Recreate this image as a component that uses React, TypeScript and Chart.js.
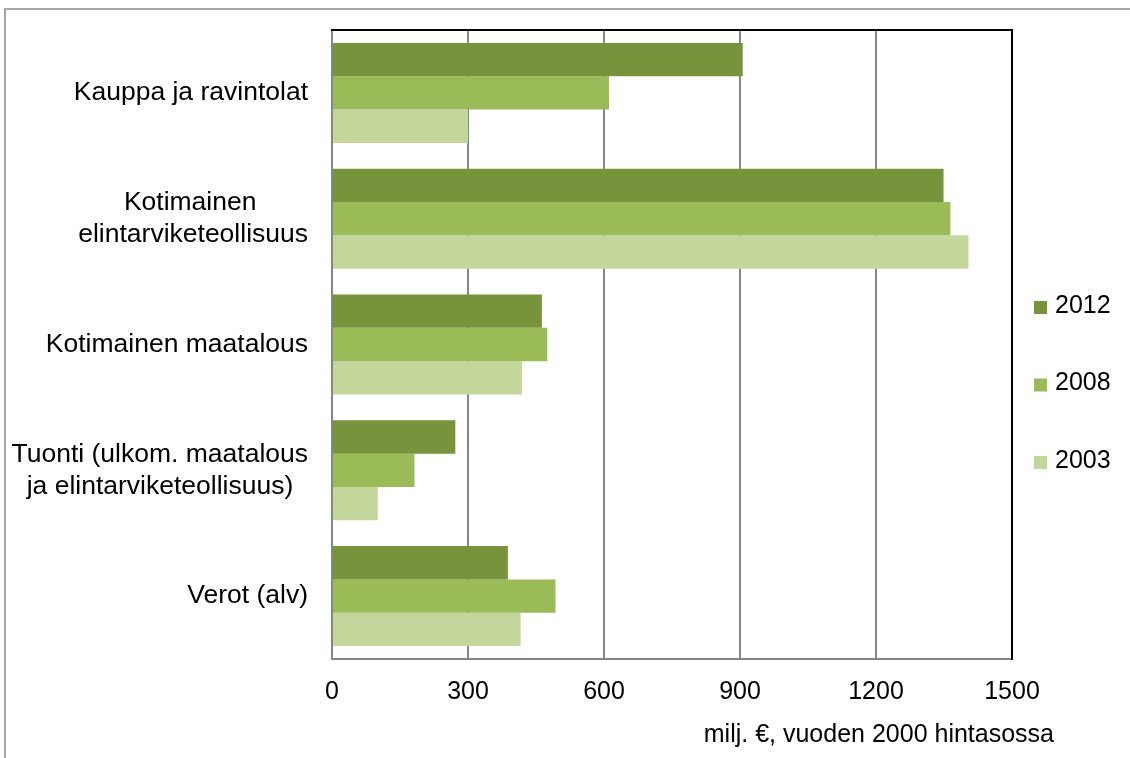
import React, { useEffect, useRef } from "react";
import { Chart, registerables } from "chart.js";

Chart.register(...registerables);

const CATEGORIES: (string | string[])[] = [
  "Kauppa ja ravintolat",
  ["Kotimainen", "elintarviketeollisuus"],
  "Kotimainen maatalous",
  ["Tuonti (ulkom. maatalous", "ja elintarviketeollisuus)"],
  "Verot (alv)",
];

const SERIES_LABELS = ["2012", "2008", "2003"];
const VALUES_2012 = [906, 1349, 463, 272, 388];
const VALUES_2008 = [611, 1364, 475, 182, 493];
const VALUES_2003 = [300, 1404, 419, 101, 416];
const COLORS = ["#77933C", "#9BBB59", "#C3D69B"];

const X_MIN = 0;
const X_MAX = 1500;
const X_STEP = 300;
const AXIS_TITLE = "milj. €, vuoden 2000 hintasossa";

const FONT = '"Liberation Sans", Arial, sans-serif';
const CAT_FONT_SIZE = 26.5;
const SMALL_FONT_SIZE = 25;

// centre the lines of multi-line category labels within their (right-aligned) block
function centreLines(label: string | string[]): string | string[] {
  if (!Array.isArray(label)) return label;
  const c = document.createElement("canvas").getContext("2d")!;
  c.font = `${CAT_FONT_SIZE}px ${FONT}`;
  const widths = label.map((l) => c.measureText(l).width);
  const maxW = Math.max(...widths);
  const nb = c.measureText("\u00A0").width;
  return label.map((l, i) => l + "\u00A0".repeat(Math.round((maxW - widths[i]) / 2 / nb)));
}

const sideLegend = {
  id: "sideLegend",
  afterDraw(chart: any) {
    const { ctx, chartArea } = chart;
    ctx.save();
    chart.data.datasets.forEach((ds: any, i: number) => {
      const cy = chartArea.top + 276 + i * 77.5;
      ctx.fillStyle = ds.backgroundColor;
      ctx.fillRect(chartArea.right + 22, cy - 5, 13, 13);
      ctx.fillStyle = "#000";
      ctx.font = `${SMALL_FONT_SIZE}px ${FONT}`;
      ctx.textBaseline = "middle";
      ctx.textAlign = "left";
      ctx.fillText(ds.label, chartArea.right + 43, cy);
    });
    ctx.font = `${SMALL_FONT_SIZE}px ${FONT}`;
    ctx.textBaseline = "alphabetic";
    ctx.textAlign = "right";
    ctx.fillStyle = "#000";
    ctx.fillText(AXIS_TITLE, chartArea.right + 42, chartArea.bottom + 83);
    ctx.restore();
  },
};

export default function App() {
  const ref = useRef<HTMLCanvasElement | null>(null);

  useEffect(() => {
    if (!ref.current) return;
    const series = [VALUES_2012, VALUES_2008, VALUES_2003];
    const chart = new Chart(ref.current, {
      type: "bar",
      data: {
        labels: CATEGORIES.map(centreLines) as any,
        datasets: series.map((vals, i) => ({
          label: SERIES_LABELS[i],
          data: vals,
          backgroundColor: COLORS[i],
          borderWidth: 0,
          categoryPercentage: 0.795,
          barPercentage: 1,
        })),
      },
      options: {
        indexAxis: "y",
        animation: false,
        responsive: false,
        maintainAspectRatio: false,
        layout: { padding: { top: 30, right: 118, bottom: 0, left: 0 } },
        plugins: {
          legend: { display: false },
          tooltip: { enabled: false },
        },
        scales: {
          x: {
            type: "linear",
            position: "bottom",
            min: X_MIN,
            max: X_MAX,
            z: 1,
            ticks: {
              stepSize: X_STEP,
              color: "#000",
              font: { family: FONT, size: SMALL_FONT_SIZE },
              padding: 18,
              callback: (v: any) => String(v),
            },
            grid: { color: "#868686", lineWidth: 2, drawTicks: false },
            border: { color: "#868686", width: 2 },
            afterFit: (s: any) => {
              s.height = 99;
            },
          },
          y: {
            type: "category",
            position: "left",
            z: 1,
            grid: { display: false, drawTicks: false },
            border: { color: "#868686", width: 2 },
            ticks: {
              color: "#000",
              font: { family: FONT, size: CAT_FONT_SIZE },
              padding: 24,
              autoSkip: false,
            },
            afterFit: (s: any) => {
              s.width = 332;
              s.paddingTop = 0;
              s.paddingBottom = 0;
            },
          },
          x2: {
            type: "linear",
            position: "top",
            min: X_MIN,
            max: X_MAX,
            z: 2,
            grid: { display: false, drawTicks: false },
            ticks: { display: false },
            border: { color: "#000", width: 2 },
            afterFit: (s: any) => {
              s.height = 0;
            },
          },
          y2: {
            type: "linear",
            position: "right",
            z: 2,
            grid: { display: false, drawTicks: false },
            ticks: { display: false },
            border: { color: "#000", width: 2 },
            afterFit: (s: any) => {
              s.width = 0;
            },
          },
        } as any,
      },
      plugins: [sideLegend],
    });
    return () => chart.destroy();
  }, []);

  return (
    <div
      style={{
        position: "absolute",
        left: 0,
        top: 0,
        width: 1130,
        height: 758,
        overflow: "hidden",
        background: "#fff",
      }}
    >
      <div
        style={{
          position: "absolute",
          left: 4,
          top: 8,
          width: 1140,
          height: 770,
          borderTop: "2px solid #a6a6a6",
          borderLeft: "2px solid #a6a6a6",
        }}
      />
      <canvas
        ref={ref}
        width={1130}
        height={758}
        style={{ position: "absolute", left: 0, top: 0, width: 1130, height: 758 }}
      />
    </div>
  );
}
